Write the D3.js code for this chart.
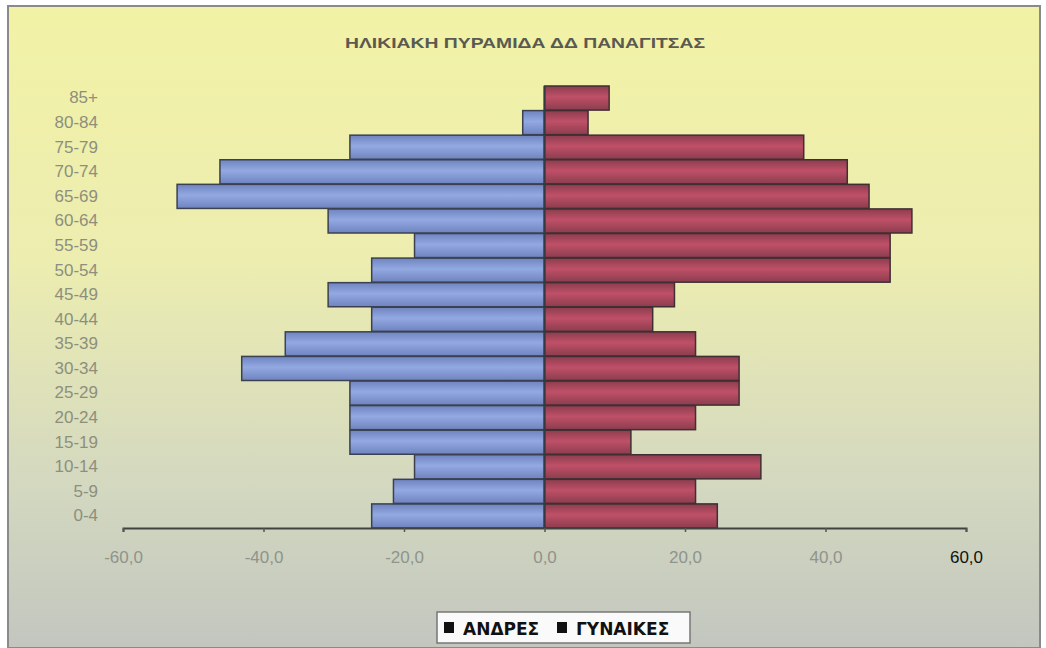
<!DOCTYPE html>
<html>
<head>
<meta charset="utf-8">
<script src="https://cdn.jsdelivr.net/npm/d3@7"></script>
<style>
  body { margin: 0; background: #fff; }
  svg { display: block; }
</style>
</head>
<body>
<div class="chart"></div>
<script>
// age groups, bottom to top
const ages = ['0-4', '5-9', '10-14', '15-19', '20-24', '25-29', '30-34', '35-39', '40-44',
  '45-49', '50-54', '55-59', '60-64', '65-69', '70-74', '75-79', '80-84', '85+'];
const men = [-24.6, -21.5, -18.5, -27.7, -27.7, -27.7, -43.1, -36.9, -24.6,
  -30.8, -24.6, -18.5, -30.8, -52.3, -46.2, -27.7, -3.1, 0];
const women = [24.6, 21.5, 30.8, 12.3, 21.5, 27.7, 27.7, 21.5, 15.4,
  18.5, 49.2, 49.2, 52.3, 46.2, 43.1, 36.9, 6.2, 9.2];
const xTicks = [-60, -40, -20, 0, 20, 40, 60];
const title = 'ΗΛΙΚΙΑΚΗ ΠΥΡΑΜΙΔΑ ΔΔ ΠΑΝΑΓΙΤΣΑΣ';
const legendNames = ['ΑΝΔΡΕΣ', 'ΓΥΝΑΙΚΕΣ'];

const width = 1046, height = 648;

const svg = d3.select('.chart').append('svg')
  .attr('width', width)
  .attr('height', height);

const defs = svg.append('defs');

const bg = defs.append('linearGradient').attr('id', 'bg')
  .attr('x1', 0).attr('y1', 0).attr('x2', 0).attr('y2', 1);
bg.append('stop').attr('offset', '0%').attr('stop-color', '#f2f2a6');
bg.append('stop').attr('offset', '40%').attr('stop-color', '#ecedb0');
bg.append('stop').attr('offset', '75%').attr('stop-color', '#d3d8c0');
bg.append('stop').attr('offset', '100%').attr('stop-color', '#c2c6bf');

function barGrad(id, edge, mid) {
  const g = defs.append('linearGradient').attr('id', id)
    .attr('x1', 0).attr('y1', 0).attr('x2', 0).attr('y2', 1);
  g.append('stop').attr('offset', '0%').attr('stop-color', edge);
  g.append('stop').attr('offset', '45%').attr('stop-color', mid);
  g.append('stop').attr('offset', '100%').attr('stop-color', edge);
}
barGrad('menGrad', '#6f84bf', '#93a9e2');
barGrad('womenGrad', '#8c3d4e', '#bf5068');

// background / frame
svg.append('rect')
  .attr('x', 8).attr('y', 6)
  .attr('width', 1032).attr('height', 642)
  .attr('fill', 'url(#bg)')
  .attr('stroke', '#8a8a8a')
  .attr('stroke-width', 2);

const x = d3.scaleLinear().domain([-60, 60]).range([123, 966]);
const y = d3.scaleBand().domain(ages.slice().reverse()).range([86, 528]).paddingInner(0.02);

// title
svg.append('text')
  .attr('x', 525).attr('y', 48)
  .attr('text-anchor', 'middle')
  .attr('font-family', 'Liberation Sans Narrow, Arial Narrow, Liberation Sans, sans-serif')
  .attr('font-weight', 'bold')
  .attr('font-size', 15)
  .attr('fill', '#5a5a50')
  .attr('textLength', 360)
  .attr('lengthAdjust', 'spacingAndGlyphs')
  .text(title);

// bars
svg.append('g').selectAll('rect')
  .data(ages.map((a, i) => ({ age: a, v: men[i] })).filter(d => d.v !== 0))
  .join('rect')
  .attr('x', d => x(d.v))
  .attr('y', d => y(d.age))
  .attr('width', d => x(0) - x(d.v))
  .attr('height', y.bandwidth())
  .attr('fill', 'url(#menGrad)')
  .attr('stroke', '#3b4150')
  .attr('stroke-width', 1.5);

svg.append('g').selectAll('rect')
  .data(ages.map((a, i) => ({ age: a, v: women[i] })))
  .join('rect')
  .attr('x', x(0))
  .attr('y', d => y(d.age))
  .attr('width', d => x(d.v) - x(0))
  .attr('height', y.bandwidth())
  .attr('fill', 'url(#womenGrad)')
  .attr('stroke', '#3f2f33')
  .attr('stroke-width', 1.5);

// vertical zero axis
svg.append('line')
  .attr('x1', x(0)).attr('x2', x(0))
  .attr('y1', 86).attr('y2', 528)
  .attr('stroke', '#333a44').attr('stroke-width', 2);

// x axis
const xAxis = svg.append('g')
  .attr('transform', 'translate(0,528)')
  .call(d3.axisBottom(x).tickValues(xTicks).tickSize(4).tickPadding(19)
    .tickFormat(d => d3.format('.1f')(d).replace('.', ',').replace('−', '-')));
xAxis.select('.domain').attr('stroke', '#3f423f').attr('stroke-width', 2);
xAxis.selectAll('.tick line').attr('stroke', '#555').attr('stroke-width', 1.5);
xAxis.selectAll('.tick text')
  .attr('font-family', 'Liberation Sans, Arial, sans-serif')
  .attr('font-size', 17)
  .attr('fill', d => d === 60 ? '#111' : '#8f948c');

// y axis labels
const yAxis = svg.append('g')
  .attr('transform', 'translate(101,0)')
  .call(d3.axisLeft(y).tickSize(0).tickPadding(3));
yAxis.select('.domain').remove();
yAxis.selectAll('.tick text')
  .attr('font-family', 'Liberation Sans, Arial, sans-serif')
  .attr('font-size', 17)
  .attr('fill', '#8d8f7e');

// legend
const leg = svg.append('g').attr('transform', 'translate(437,612)');
leg.append('rect')
  .attr('width', 253).attr('height', 31)
  .attr('fill', '#fafafa')
  .attr('stroke', '#777').attr('stroke-width', 1.5);
const items = leg.selectAll('g.item')
  .data(legendNames)
  .join('g')
  .attr('class', 'item')
  .attr('transform', (d, i) => `translate(${i === 0 ? 7 : 120},0)`);
items.append('rect')
  .attr('y', 10).attr('width', 10).attr('height', 11)
  .attr('fill', '#111');
items.append('text')
  .attr('x', 19).attr('y', 22.5)
  .attr('font-family', 'DejaVu Sans, sans-serif')
  .attr('font-weight', 'bold')
  .attr('font-size', 17)
  .attr('fill', '#111')
  .text(d => d);
</script>
</body>
</html>
